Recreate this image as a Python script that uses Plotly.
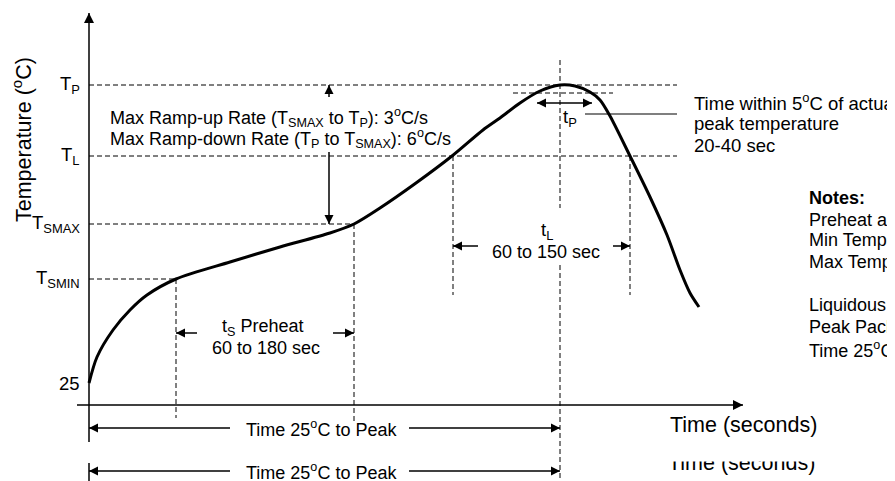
import plotly.graph_objects as go

# ---------------- data (schematic units: time from the 25 degC start, temperature above the time axis)
profile_time = [0, 8, 24, 41, 58, 87, 141, 191, 241, 265, 291, 327, 363, 394, 411, 431, 451,
                471, 486, 501, 511, 521, 541, 561, 578, 591, 601, 610]
profile_temp = [22, 48, 75, 95, 110, 126, 143, 158, 172, 181, 197, 222, 249, 275, 287, 302, 314,
                320, 319, 313, 305, 289, 249, 208, 170, 135, 112, 98]

level_labels = ["T<sub>P</sub>", "T<sub>L</sub>", "T<sub>SMAX</sub>", "T<sub>SMIN</sub>", "25"]
level_values = [320, 249, 181, 126, 22]
T_P, T_L, T_SMAX, T_SMIN, T_25 = level_values
T_P5 = 312            # 5 degC below actual peak

t_smin = 87
t_smax = 265
t_l_start = 364
t_peak = 471
t_l_end = 541
t_p_window = [448, 503]

notes_lines = [
    "<b>Notes:</b>",
    "Preheat and Soak",
    "Min Temperature (T<sub>SMIN</sub>)",
    "Max Temperature (T<sub>SMAX</sub>)",
    "",
    "Liquidous Temperature (T<sub>L</sub>)",
    "Peak Package Body Temperature (T<sub>P</sub>)",
    "Time 25<sup>o</sup>C to Peak",
]
tp_lines = ["Time within 5<sup>o</sup>C of actual", "peak temperature", "20-40 sec"]

FONT = "Liberation Sans, Arial, sans-serif"
# the page body adds an 8px margin, so the figure is 8px smaller and its range starts 8px later
X_RANGE = [-81, 806]
Y_RANGE = [-76, 397]

fig = go.Figure()

fig.add_trace(go.Scatter(
    x=profile_time, y=profile_temp, mode="lines",
    line=dict(color="black", width=3, shape="spline", smoothing=0.8),
    hoverinfo="skip", showlegend=False))

# duplicated (clipped) axis title at the bottom
fig.add_trace(go.Scatter(
    x=[579], y=[-60], mode="text", text=["Time (seconds)"], textposition="middle right",
    textfont=dict(family=FONT, size=21.5, color="black"), hoverinfo="skip", showlegend=False))

DASH = "5px,3px"
shapes = []


def seg(x0, y0, x1, y1, dash=DASH, color="black", width=1, layer="below"):
    shapes.append(dict(type="line", xref="x", yref="y", x0=x0, y0=y0, x1=x1, y1=y1,
                       line=dict(color=color, width=width, dash=dash), layer=layer))


# horizontal reference levels
seg(0, T_P, 588, T_P)
seg(0, T_L, 588, T_L)
seg(0, T_SMAX, t_smax, T_SMAX)
seg(0, T_SMIN, t_smin, T_SMIN)
seg(424, T_P5, 524, T_P5)
# vertical reference times
seg(t_smin, T_SMIN, t_smin, -13)
seg(t_smax, T_SMAX, t_smax, -17)
seg(t_l_start, T_L, t_l_start, 110)
seg(t_l_end, T_L, t_l_end, 110)
seg(t_peak, 345, t_peak, 197)
seg(t_peak, 140, t_peak, -76)
# t_P leader line
seg(496, 291, 588, 291, dash="solid", color="#555555", width=1.5)
# small tick under the axis for second row
seg(0, -58, 0, -76, dash="solid", width=1.5)
# mask that clips the top of the duplicated title
shapes.append(dict(type="rect", xref="x", yref="y", x0=570, x1=760, y0=-44, y1=-56.5,
                   fillcolor="white", line=dict(width=0), layer="above"))

heads = {}


def arrow(tail_x, tail_y, tip_x, tip_y, symbol, size=9, width=1.5):
    seg(tail_x, tail_y, tip_x, tip_y, dash="solid", width=width)
    heads.setdefault((symbol, size), ([], []))
    heads[(symbol, size)][0].append(tip_x)
    heads[(symbol, size)][1].append(tip_y)


# axes
arrow(0, -37, 0, 392, "arrow-up", size=10)
arrow(-12, 0, 654, 0, "arrow-right", size=10)
# ramp-rate arrow
arrow(240, 308, 240, T_P, "arrow-up")
arrow(240, 253, 240, T_SMAX, "arrow-down")
# t_P window
arrow(476, 302, t_p_window[0], 302, "arrow-left")
arrow(476, 302, t_p_window[1], 302, "arrow-right")
# t_L
arrow(389, 159, t_l_start, 159, "arrow-left")
arrow(524, 159, t_l_end, 159, "arrow-right")
# t_S
arrow(108, 72, t_smin, 72, "arrow-left")
arrow(244, 72, t_smax, 72, "arrow-right")
# time 25 to peak rows
row_levels = [-23, -66]
for yy in row_levels:
    arrow(141, yy, 0, yy, "arrow-left")
    arrow(320, yy, t_peak, yy, "arrow-right")

for (symbol, size), (xs, ys) in heads.items():
    fig.add_trace(go.Scatter(
        x=xs, y=ys, mode="markers",
        marker=dict(symbol=symbol, size=size, color="black", line=dict(width=0)),
        hoverinfo="skip", showlegend=False))

ann = []


def label(x, y, text, size=18, xanchor="center", angle=0):
    ann.append(dict(x=x, y=y, xref="x", yref="y", text=text, showarrow=False,
                    xanchor=xanchor, yanchor="middle", textangle=angle,
                    font=dict(family=FONT, size=size, color="black")))


label(19, 288, "Max Ramp-up Rate (T<sub>SMAX</sub> to T<sub>P</sub>): 3<sup>o</sup>C/s", xanchor="left")
label(19, 267, "Max Ramp-down Rate (T<sub>P</sub> to T<sub>SMAX</sub>): 6<sup>o</sup>C/s", xanchor="left")

label(481, 287, "t<sub>P</sub>", size=18.5)
for i, s in enumerate(tp_lines):
    label(603, 303 - 21.5 * i, s, xanchor="left", size=18.5)

label(458, 174, "t<sub>L</sub>", size=18.5)
label(457, 153, "60 to 150 sec")

label(173, 78, "t<sub>S</sub> Preheat")
label(177, 57, "60 to 180 sec")

for yy in row_levels:
    label(232, yy, "Time 25<sup>o</sup>C to Peak")

for txt, v in zip(level_labels, level_values):
    label(-7, v, txt, xanchor="right", size=18.5)

label(-67, 265, "Temperature (<sup>o</sup>C)", size=21.5, angle=-90)
label(579, -20, "Time (seconds)", size=21.5, xanchor="left")

for i, s in enumerate(notes_lines):
    if s:
        label(718, 207 - 21.7 * i, s, xanchor="left")

fig.update_layout(
    width=887, height=473, autosize=False,
    margin=dict(l=0, r=0, t=0, b=0, pad=0),
    paper_bgcolor="white", plot_bgcolor="white",
    xaxis=dict(range=X_RANGE, visible=False, fixedrange=True),
    yaxis=dict(range=Y_RANGE, visible=False, fixedrange=True),
    shapes=shapes, annotations=ann, showlegend=False,
)

fig.write_html("out.html", config={"displayModeBar": False})
